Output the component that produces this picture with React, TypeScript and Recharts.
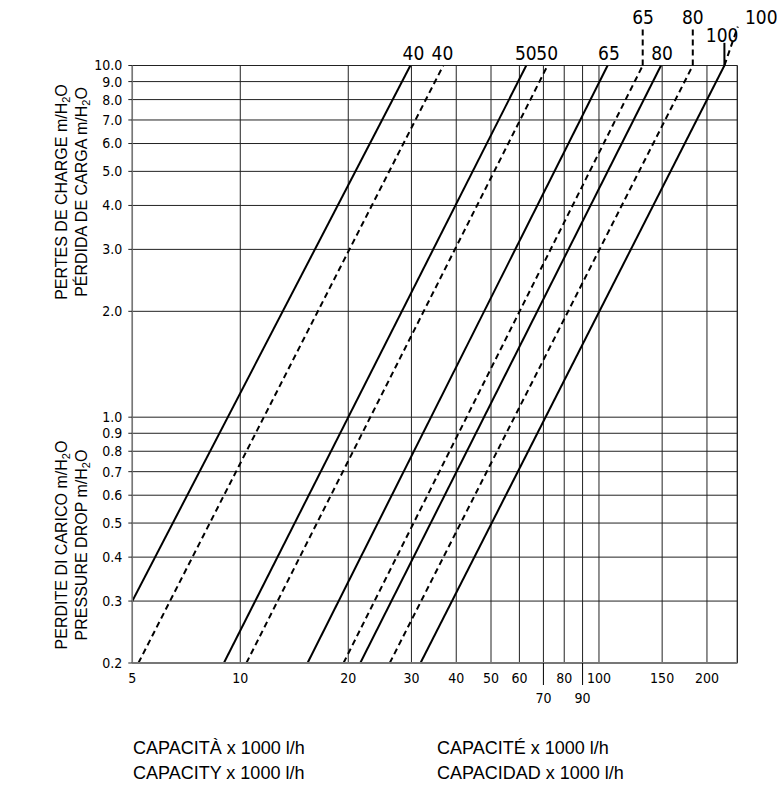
import React from 'react';
import {
  LineChart,
  Line,
  XAxis,
  YAxis,
  CartesianGrid,
  ReferenceLine,
  ReferenceDot,
} from 'recharts';

// axes
const xTicks = [5, 10, 20, 30, 40, 50, 60, 70, 80, 90, 100, 150, 200];
const xLowTicks = [70, 90];
const yTicks = [0.2, 0.3, 0.4, 0.5, 0.6, 0.7, 0.8, 0.9, 1, 2, 3, 4, 5, 6, 7, 8, 9, 10];
const xDomain = [5, 243];
const yDomain = [0.2, 10];

// solid curves: start point (q, p) -> end at p = 10
const solidNames = ['40', '50', '65', '80', '100'];
const solidStartQ = [5, 9.0, 15.4, 21.6, 31.8];
const solidStartP = [0.3, 0.2, 0.2, 0.2, 0.2];
const solidEndQ = [29.8, 62.7, 105.7, 148.9, 223.7];

// dashed curves: start at p = 0.2 -> end at p = 10
const dashedNames = ['40', '50', '65', '80'];
const dashedStartQ = [5.2, 10.4, 19.4, 26.1];
const dashedEndQ = [36.8, 71.9, 132.4, 182.6];

// size labels above the plot
const labelText = ['40', '40', '50', '50', '65', '80', '100', '65', '80', '100'];
const labelQ = [30.4, 36.6, 62.5, 71.7, 106.6, 149.9, 220.5, 132.7, 182.6, 283.5];
const labelP = [10.85, 10.85, 10.85, 10.85, 10.85, 10.85, 12.2, 13.7, 13.7, 13.7];

// leaders from the curves up to the raised labels
const leaderFromQ = [132.4, 182.6, 223.7, 223.7];
const leaderToQ = [132.4, 182.6, 223.7, 243.8];
const leaderToP = [12.9, 12.9, 11.6, 12.9];
const leaderDashed = [true, true, false, true];

const NARROW = "'Liberation Sans Narrow', 'DejaVu Sans Condensed', 'Arial Narrow', sans-serif";
const SANS = "'Liberation Sans', Arial, Helvetica, sans-serif";

const XTick = (props: any) => {
  const { x, y, payload } = props;
  const low = xLowTicks.includes(payload.value);
  return (
    <g>
      {low && <line x1={x} y1={y} x2={x} y2={y + 22} stroke="#000" strokeWidth={1} />}
      <text
        x={x}
        y={y + (low ? 40 : 20)}
        textAnchor="middle"
        fontSize={14}
        fontFamily={NARROW}
        fill="#000"
      >
        {payload.value}
      </text>
    </g>
  );
};

const H2O = () => (
  <>
    m/H
    <tspan dy={3} fontSize={11}>
      2
    </tspan>
    <tspan dy={-3}>O</tspan>
  </>
);

export default function App() {
  return (
    <div style={{ position: 'relative', width: 777, height: 786 }}>
      <style>{'body{margin:0}'}</style>
      <LineChart
        width={777}
        height={786}
        margin={{ top: 65.5, right: 39.7, left: 72.3, bottom: 73 }}
      >
        <CartesianGrid stroke="#222" strokeWidth={1} />
        <XAxis
          dataKey="q"
          type="number"
          scale="log"
          domain={xDomain}
          allowDataOverflow
          ticks={xTicks}
          interval={0}
          height={50}
          tickSize={0}
          tickMargin={0}
          tickLine={false}
          tick={<XTick />}
          axisLine={{ stroke: '#777', strokeWidth: 2 }}
        />
        <YAxis
          type="number"
          scale="log"
          domain={yDomain}
          allowDataOverflow
          ticks={yTicks}
          interval={0}
          width={60}
          tickSize={4}
          tickMargin={6}
          tickLine={{ stroke: '#222' }}
          axisLine={{ stroke: '#777', strokeWidth: 1.5 }}
          tickFormatter={(v: number) => v.toFixed(1)}
          tick={{ fontSize: 14, fontFamily: NARROW, fill: '#000' }}
        />
        <ReferenceLine x={xDomain[1]} stroke="#222" strokeWidth={1} />

        {solidNames.map((n, i) => (
          <Line
            key={'s' + n}
            data={[
              { q: solidStartQ[i], p: solidStartP[i] },
              { q: solidEndQ[i], p: 10 },
            ]}
            dataKey="p"
            stroke="#000"
            strokeWidth={2}
            dot={false}
            isAnimationActive={false}
          />
        ))}
        {dashedNames.map((n, i) => (
          <Line
            key={'d' + n}
            data={[
              { q: dashedStartQ[i], p: 0.2 },
              { q: dashedEndQ[i], p: 10 },
            ]}
            dataKey="p"
            stroke="#000"
            strokeWidth={2}
            strokeDasharray="6 4"
            dot={false}
            isAnimationActive={false}
          />
        ))}

        {leaderFromQ.map((q, i) => (
          <ReferenceLine
            key={'l' + i}
            segment={[
              { x: q, y: 10 },
              { x: leaderToQ[i], y: leaderToP[i] },
            ]}
            ifOverflow="visible"
            stroke="#000"
            strokeWidth={2}
            strokeDasharray={leaderDashed[i] ? '6 4' : undefined}
          />
        ))}
        {labelText.map((t, i) => (
          <ReferenceDot
            key={'t' + i}
            x={labelQ[i]}
            y={labelP[i]}
            r={0}
            ifOverflow="visible"
            fill="none"
            stroke="none"
            label={{
              value: t,
              position: 'center',
              fontSize: 19,
              fontFamily: NARROW,
              fill: '#000',
            }}
          />
        ))}
      </LineChart>

      <svg
        width={777}
        height={786}
        style={{ position: 'absolute', left: 0, top: 0, pointerEvents: 'none' }}
        fontFamily={SANS}
        fontSize={16}
        fill="#000"
      >
        <text transform="translate(67,192) rotate(-90)" textAnchor="middle">
          PERTES DE CHARGE <H2O />
        </text>
        <text transform="translate(87,192) rotate(-90)" textAnchor="middle">
          PÉRDIDA DE CARGA <H2O />
        </text>
        <text transform="translate(67,545) rotate(-90)" textAnchor="middle">
          PERDITE DI CARICO <H2O />
        </text>
        <text transform="translate(87,545) rotate(-90)" textAnchor="middle">
          PRESSURE DROP <H2O />
        </text>

        <g fontSize={18}>
          <text x={133} y={754}>CAPACITÀ x 1000 l/h</text>
          <text x={133} y={779}>CAPACITY x 1000 l/h</text>
          <text x={437} y={754}>CAPACITÉ x 1000 l/h</text>
          <text x={437} y={779}>CAPACIDAD x 1000 l/h</text>
        </g>
      </svg>
    </div>
  );
}
